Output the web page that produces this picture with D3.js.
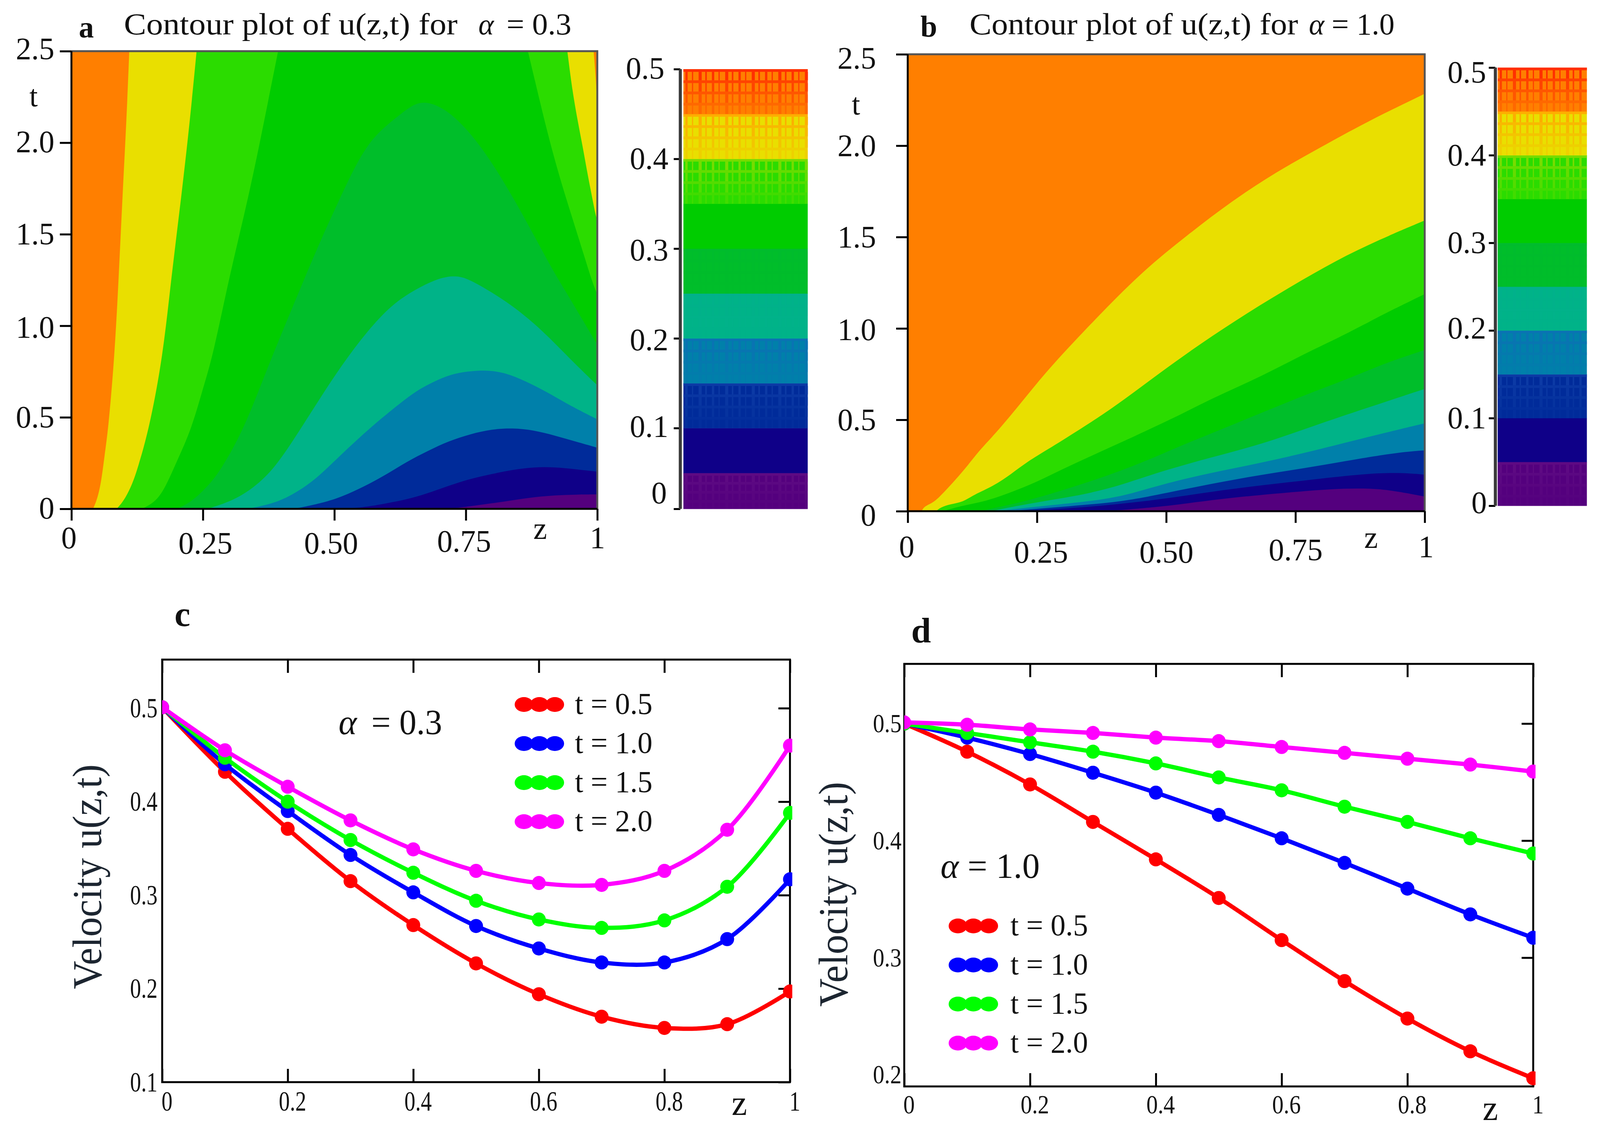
<!DOCTYPE html>
<html>
<head>
<meta charset="utf-8">
<script src="https://cdn.jsdelivr.net/npm/d3@7"></script>
<style>
html, body { margin: 0; padding: 0; background: #fff; overflow: hidden; }
svg { display: block; }
text { font-family: "Liberation Serif", serif; fill: #111; }
</style>
</head>
<body>
<script>
// contour boundaries, each point is [z, t]

// panel a, alpha = 0.3
var a45 = [[0.041,0],[0.049,0.051],[0.057,0.151],[0.063,0.293],[0.07,0.433],[0.082,0.833],[0.09,1.268],[0.097,1.703],[0.105,2.138],[0.11,2.5]]
var a45r = [[0.993,2.5],[0.997,2.36],[1,2.2]]
var a40 = [[0.086,0],[0.1,0.044],[0.116,0.136],[0.126,0.222],[0.1475,0.433],[0.174,0.833],[0.19,1.268],[0.209,1.703],[0.226,2.138],[0.238,2.5]]
var a40r = [[0.943,2.5],[0.953,2.276],[0.963,2.114],[0.973,1.967],[0.982,1.82],[0.99,1.705],[0.997,1.6],[1,1.58]]
var a35 = [[0.134,0],[0.164,0.044],[0.184,0.151],[0.2,0.257],[0.228,0.433],[0.249,0.648],[0.269,0.833],[0.3,1.268],[0.337,1.703],[0.368,2.138],[0.393,2.5]]
var a35r = [[0.868,2.5],[0.88,2.357],[0.904,2.065],[0.929,1.803],[0.953,1.584],[0.978,1.355],[0.99,1.243],[1,1.17]]
var a30 = [[0.2,0],[0.228,0.037],[0.259,0.122],[0.283,0.207],[0.328,0.433],[0.375,0.789],[0.421,1.105],[0.468,1.431],[0.515,1.725],[0.562,2.007],[0.618,2.138],[0.645,2.2],[0.67,2.23],[0.7085,2.19],[0.745,2.097],[0.782,1.967],[0.819,1.803],[0.855,1.624],[0.892,1.428],[0.919,1.285],[0.946,1.159],[0.972,1.032],[1,0.897]]
var a25 = [[0.259,0],[0.307,0.044],[0.347,0.115],[0.387,0.222],[0.435,0.433],[0.468,0.583],[0.515,0.79],[0.562,0.969],[0.609,1.116],[0.656,1.203],[0.702,1.265],[0.734,1.275],[0.759,1.25],[0.799,1.184],[0.839,1.108],[0.879,1.016],[0.919,0.906],[0.959,0.788],[1,0.675]]
var a20 = [[0.335,0],[0.387,0.03],[0.427,0.087],[0.466,0.165],[0.506,0.278],[0.564,0.433],[0.609,0.54],[0.656,0.648],[0.702,0.713],[0.734,0.745],[0.785,0.76],[0.825,0.745],[0.865,0.696],[0.905,0.637],[0.945,0.569],[1,0.489]]
var a15 = [[0.423,0],[0.486,0.037],[0.526,0.08],[0.566,0.136],[0.598,0.186],[0.638,0.258],[0.678,0.317],[0.718,0.371],[0.759,0.409],[0.799,0.435],[0.839,0.442],[0.879,0.43],[0.919,0.401],[0.959,0.367],[1,0.334]]
var a10 = [[0.518,0],[0.566,0.012],[0.598,0.03],[0.638,0.051],[0.678,0.085],[0.718,0.127],[0.759,0.165],[0.799,0.19],[0.839,0.214],[0.879,0.228],[0.919,0.228],[0.959,0.216],[1,0.203]]
var a05 = [[0.718,0],[0.759,0.014],[0.799,0.03],[0.839,0.047],[0.879,0.064],[0.919,0.074],[0.959,0.078],[1,0.079]]

// panel b, alpha = 1.0
var b45 = [[0.027,0],[0.032,0.028],[0.05,0.046],[0.07,0.103],[0.093,0.174],[0.117,0.253],[0.14,0.338],[0.177,0.446],[0.238,0.659],[0.283,0.812],[0.369,1.069],[0.455,1.315],[0.541,1.511],[0.626,1.695],[0.712,1.855],[0.798,1.99],[0.884,2.125],[1,2.284]]
var b40 = [[0.055,0],[0.063,0.021],[0.083,0.039],[0.107,0.05],[0.127,0.089],[0.167,0.139],[0.2,0.203],[0.233,0.274],[0.267,0.331],[0.332,0.446],[0.398,0.566],[0.484,0.75],[0.569,0.922],[0.655,1.082],[0.741,1.229],[0.827,1.37],[0.913,1.487],[1,1.591]]
var b35 = [[0.067,0],[0.107,0.032],[0.15,0.053],[0.2,0.103],[0.25,0.16],[0.3,0.231],[0.35,0.296],[0.4,0.36],[0.466,0.446],[0.535,0.539],[0.585,0.611],[0.635,0.676],[0.685,0.741],[0.735,0.813],[0.785,0.885],[0.834,0.95],[0.884,1.023],[0.918,1.075],[1,1.188]]
var b30 = [[0.14,0],[0.217,0.046],[0.283,0.1],[0.35,0.16],[0.417,0.225],[0.485,0.304],[0.535,0.366],[0.585,0.423],[0.635,0.481],[0.685,0.539],[0.735,0.597],[0.785,0.654],[0.834,0.705],[0.884,0.763],[0.934,0.82],[1,0.882]]
var b25 = [[0.16,0],[0.217,0.032],[0.283,0.064],[0.35,0.096],[0.417,0.146],[0.485,0.214],[0.585,0.293],[0.685,0.366],[0.785,0.467],[0.884,0.561],[1,0.669]]
var b20 = [[0.17,0],[0.25,0.025],[0.35,0.053],[0.417,0.082],[0.485,0.142],[0.585,0.21],[0.685,0.265],[0.785,0.33],[0.884,0.402],[1,0.481]]
var b15 = [[0.19,0],[0.317,0.028],[0.417,0.053],[0.485,0.091],[0.585,0.149],[0.685,0.2],[0.785,0.243],[0.884,0.293],[0.951,0.322],[1,0.333]]
var b10 = [[0.217,0],[0.35,0.021],[0.485,0.062],[0.585,0.106],[0.685,0.142],[0.785,0.174],[0.884,0.205],[0.951,0.212],[1,0.2]]
var b05 = [[0.383,0],[0.485,0.023],[0.535,0.041],[0.635,0.077],[0.735,0.102],[0.818,0.122],[0.884,0.126],[0.934,0.116],[1,0.08]]

// colour bands, low to high
var bandLevels = [0, 0.05, 0.1, 0.15, 0.2, 0.25, 0.3, 0.35, 0.4, 0.45, 0.5]
var bandColors = ['#54007e', '#0f0088', '#002b9a', '#0080aa', '#00b388', '#00be2a', '#00cc00', '#2bdc00', '#e9df00', '#ff7f00']
var stripeColors = ['#6d1a8c', '#0f0088', '#0f3ea8', '#0d6fb5', '#0aa8a0', '#00b33a', '#00cc00', '#8cdc00', '#ffa800', '#ff2800']
var stripeStrength = [0.4, 0, 0.8, 0.8, 0.15, 0.2, 0, 0.8, 0.9, 0.9]

// tick labels
var tTicks = [0, 0.5, 1, 1.5, 2, 2.5]
var tLabels = ['0', '0.5', '1.0', '1.5', '2.0', '2.5']
var zContourTicks = [0, 0.25, 0.5, 0.75, 1]
var zContourLabels = ['0', '0.25', '0.50', '0.75', '1']
var barLabels = ['0', '0.1', '0.2', '0.3', '0.4', '0.5']
var zLineTicks = [0, 0.2, 0.4, 0.6, 0.8, 1]
var zLineLabels = ['0', '0.2', '0.4', '0.6', '0.8', '1']

// velocity profiles
var zValues = [0, 0.1, 0.2, 0.3, 0.4, 0.5, 0.6, 0.7, 0.8, 0.9, 1]
var legendNames = ['t = 0.5', 't = 1.0', 't = 1.5', 't = 2.0']
var lineColors = ['#ff0000', '#0000ff', '#00ff00', '#ff00ff']

var c05 = [0.501, 0.432, 0.371, 0.315, 0.268, 0.227, 0.194, 0.17, 0.158, 0.162, 0.197]
var c10 = [0.501, 0.44, 0.39, 0.343, 0.303, 0.267, 0.243, 0.228, 0.228, 0.253, 0.317]
var c15 = [0.501, 0.447, 0.4, 0.359, 0.324, 0.294, 0.274, 0.265, 0.273, 0.309, 0.388]
var c20 = [0.501, 0.455, 0.416, 0.38, 0.349, 0.326, 0.313, 0.311, 0.326, 0.37, 0.46]

var d05 = [0.5, 0.476, 0.448, 0.416, 0.384, 0.351, 0.315, 0.28, 0.248, 0.22, 0.197]
var d10 = [0.5, 0.488, 0.474, 0.458, 0.441, 0.422, 0.402, 0.381, 0.359, 0.337, 0.317]
var d15 = [0.5, 0.492, 0.484, 0.476, 0.466, 0.454, 0.443, 0.429, 0.416, 0.402, 0.389]
var d20 = [0.501, 0.499, 0.495, 0.492, 0.488, 0.485, 0.48, 0.475, 0.47, 0.465, 0.459]

// page setup, the drawing is laid out in reference pixels and fills whatever window it gets

var svg = d3.select('body').append('svg')
  .attr('width', window.innerWidth)
  .attr('height', window.innerHeight)
  .attr('viewBox', '0 0 4144 2891')
  .attr('preserveAspectRatio', 'none')

var clipCount = 0

function addText(x, y, str, size, opts) {
  opts = opts || {}
  var t = svg.append('text')
    .attr('x', x)
    .attr('y', y)
    .style('font-size', size + 'px')
    .text(str)
  if (opts.bold) t.style('font-weight', 'bold')
  if (opts.italic) t.style('font-style', 'italic')
  if (opts.len) t.attr('textLength', opts.len).attr('lengthAdjust', 'spacingAndGlyphs')
  if (opts.rotate) t.attr('transform', `rotate(-90 ${x} ${y})`)
  return t
}

function styleAxis(g, width, color) {
  g.selectAll('path.domain').remove()
  g.selectAll('.tick line').attr('stroke', color || '#000').attr('stroke-width', width)
  g.selectAll('text').style('font-family', '"Liberation Serif", serif')
}

// filled contour panel
function drawContour(p) {
  var x = d3.scaleLinear().domain([0, 1]).range([p.left, p.right])
  var y = d3.scaleLinear().domain([0, 2.5]).range([p.bottom, p.top])

  var id = 'clip' + (clipCount++)
  svg.append('clipPath').attr('id', id).append('rect')
    .attr('x', p.left).attr('y', p.top)
    .attr('width', p.right - p.left).attr('height', p.bottom - p.top)

  var g = svg.append('g').attr('clip-path', `url(#${id})`)

  g.append('rect')
    .attr('x', p.left).attr('y', p.top)
    .attr('width', p.right - p.left).attr('height', p.bottom - p.top)
    .attr('fill', bandColors[9])

  // basis curve evens out the small errors of reading the boundaries by eye
  var line = d3.line()
    .x(function(d) { return x(d[0]) })
    .y(function(d) { return y(d[1]) })
    .curve(d3.curveBasis)

  // paint from the highest level down, each one closes through the corner z=1, t=0
  p.levels.forEach(function(branches, i) {
    var path = branches.map(function(b) { return line(b) }).join('')
      .replace(/M/g, 'L').replace('L', 'M')
    path += `L${x(1)},${y(0)}Z`
    g.append('path').attr('d', path).attr('fill', bandColors[8 - i])
  })

  // frame
  svg.append('path')
    .attr('d', `M${p.left},${p.top}H${p.right}V${p.bottom}`)
    .attr('fill', 'none').attr('stroke', '#555').attr('stroke-width', 5)

  var bottomAxis = svg.append('g')
    .attr('transform', `translate(0,${p.bottom})`)
    .call(d3.axisBottom(x).tickValues(zContourTicks).tickSizeOuter(0).tickSize(30)
      .tickFormat(function(d, i) { return zContourLabels[i] }))
  styleAxis(bottomAxis, 5)
  bottomAxis.selectAll('text')
    .style('font-size', '80px').style('fill', '#111')
    .attr('dy', null)
    .attr('text-anchor', 'middle')
    .attr('x', function(d, i) { return p.zNudge[i] })
    .attr('y', function(d, i) { return p.zDrop[i] })

  var leftAxis = svg.append('g')
    .attr('transform', `translate(${p.left},0)`)
    .call(d3.axisLeft(y).tickValues(tTicks).tickSizeOuter(0).tickSize(30)
      .tickFormat(function(d, i) { return tLabels[i] }))
  styleAxis(leftAxis, 5)
  leftAxis.selectAll('text')
    .style('font-size', '80px').style('fill', '#111')
    .attr('dy', null)
    .attr('x', p.tRight)
    .attr('y', function(d, i) { return p.tNudge[i] })

  svg.append('line')
    .attr('x1', p.left).attr('x2', p.left)
    .attr('y1', p.top).attr('y2', p.bottom + 3)
    .attr('stroke', '#000').attr('stroke-width', 5)
  svg.append('line')
    .attr('x1', p.left).attr('x2', p.right)
    .attr('y1', p.bottom).attr('y2', p.bottom)
    .attr('stroke', '#000').attr('stroke-width', 5)
}

// colour bar next to a contour panel
function drawBar(b) {
  var y = d3.scaleLinear().domain([b.low, 0.5]).range([b.bottom, b.top])
  var width = b.right - b.left
  var stripeWidths = [6, 3, 8, 4]
  var columns = d3.range(b.left + 5, b.right - 4, 17.2)

  bandColors.forEach(function(color, i) {
    var lo = Math.max(bandLevels[i], b.low)
    var hi = bandLevels[i + 1]
    var yTop = y(hi)
    var h = y(lo) - yTop

    svg.append('rect')
      .attr('x', b.left).attr('y', yTop)
      .attr('width', width).attr('height', h + 0.5)
      .attr('fill', color)

    if (!stripeStrength[i]) return

    // the mesh texture fades out over four rows in a band
    d3.range(4).forEach(function(row) {
      var rowTop = yTop + h * row / 4
      var strength = stripeStrength[i] * (1 - row / 4.2)
      svg.append('rect')
        .attr('x', b.left).attr('y', rowTop)
        .attr('width', width).attr('height', 7)
        .attr('fill', stripeColors[i]).attr('opacity', strength)
      svg.append('g').selectAll('rect')
        .data(columns)
        .enter().append('rect')
        .attr('x', function(d) { return d })
        .attr('y', rowTop + 7)
        .attr('width', function(d, k) { return stripeWidths[k % 4] })
        .attr('height', h / 4 - 7)
        .attr('fill', stripeColors[i])
        .attr('opacity', strength)
    })
  })

  var axis = svg.append('g')
    .attr('transform', `translate(${b.axisX},0)`)
    .call(d3.axisLeft(y).tickValues([b.low, 0.1, 0.2, 0.3, 0.4, 0.5]).tickSizeOuter(0).tickSize(17)
      .tickFormat(function(d, i) { return barLabels[i] }))
  styleAxis(axis, 5)
  axis.selectAll('text')
    .style('font-size', '80px').style('fill', '#111')
    .attr('dy', null)
    .attr('x', function(d, i) { return b.labelRight[i] })
    .attr('y', function(d, i) { return b.labelNudge[i] })

  svg.append('line')
    .attr('x1', b.axisX).attr('x2', b.axisX)
    .attr('y1', b.top).attr('y2', b.bottom)
    .attr('stroke', '#3a3a3a').attr('stroke-width', 8)
}

// velocity line panel
function drawLines(p) {
  var x = d3.scaleLinear().domain([0, 1]).range([p.left, p.right])
  var y = d3.scaleLinear().domain(p.yDomain).range([p.bottom, p.top])

  var bottomAxis = svg.append('g')
    .attr('transform', `translate(0,${p.bottom})`)
    .call(d3.axisBottom(x).tickValues(zLineTicks).tickSizeOuter(0).tickSize(-34)
      .tickFormat(function(d, i) { return zLineLabels[i] }))
  styleAxis(bottomAxis, 5)
  bottomAxis.selectAll('text')
    .style('font-size', p.tickSize + 'px').style('fill', '#111')
    .attr('dy', null)
    .attr('x', 0)
    .attr('y', p.tickSize * 1.02)
    .attr('textLength', function(d, i) { return zLineLabels[i].length > 1 ? p.tickLen : p.tickLen * 0.4 })
    .attr('lengthAdjust', 'spacingAndGlyphs')
    .attr('dx', 12)

  var topAxis = svg.append('g')
    .attr('transform', `translate(0,${p.top})`)
    .call(d3.axisTop(x).tickValues(zLineTicks).tickSizeOuter(0).tickSize(-34).tickFormat(''))
  styleAxis(topAxis, 5)

  var rightAxis = svg.append('g')
    .attr('transform', `translate(${p.right},0)`)
    .call(d3.axisRight(y).tickValues(p.yTicks).tickSizeOuter(0).tickSize(-30).tickFormat(''))
  styleAxis(rightAxis, 5)

  var leftAxis = svg.append('g')
    .attr('transform', `translate(${p.left},0)`)
    .call(d3.axisLeft(y).tickValues(p.yTicks).tickSizeOuter(0).tickSize(0).tickFormat(d3.format('.1f')))
  styleAxis(leftAxis, 0)
  leftAxis.selectAll('text')
    .style('font-size', p.tickSize + 'px').style('fill', '#111')
    .attr('dy', null)
    .attr('x', p.yLabelGap)
    .attr('y', p.tickSize * 0.32)
    .attr('textLength', p.tickLen)
    .attr('lengthAdjust', 'spacingAndGlyphs')

  svg.append('rect')
    .attr('x', p.left).attr('y', p.top)
    .attr('width', p.right - p.left).attr('height', p.bottom - p.top)
    .attr('fill', 'none').attr('stroke', '#000').attr('stroke-width', 5)

  var id = 'clip' + (clipCount++)
  svg.append('clipPath').attr('id', id).append('rect')
    .attr('x', p.left).attr('y', p.top)
    .attr('width', p.right - p.left + 6).attr('height', p.bottom - p.top)

  var plot = svg.append('g').attr('clip-path', `url(#${id})`)

  var line = d3.line()
    .x(function(d, i) { return x(zValues[i]) })
    .y(function(d) { return y(d) })
    .curve(d3.curveCatmullRom.alpha(0.5))

  p.series.forEach(function(values, i) {
    plot.append('path')
      .attr('d', line(values))
      .attr('fill', 'none')
      .attr('stroke', lineColors[i])
      .attr('stroke-width', 11)

    plot.append('g').selectAll('circle')
      .data(values)
      .enter().append('circle')
      .attr('cx', function(d, k) { return x(zValues[k]) })
      .attr('cy', function(d) { return y(d) })
      .attr('r', 18)
      .attr('fill', lineColors[i])
  })

  // legend
  legendNames.forEach(function(name, i) {
    var ly = p.legendY + i * p.legendStep
    svg.append('line')
      .attr('x1', p.legendX - 55).attr('x2', p.legendX + 55)
      .attr('y1', ly).attr('y2', ly)
      .attr('stroke', lineColors[i]).attr('stroke-width', 11)
    svg.append('g').selectAll('ellipse')
      .data([-1, 0, 1])
      .enter().append('ellipse')
      .attr('cx', function(d) { return p.legendX + d * 40 })
      .attr('cy', ly)
      .attr('rx', 24)
      .attr('ry', 19)
      .attr('fill', lineColors[i])
    addText(p.legendTextX, ly + 24, name, 78, { len: 201 })
  })

  addText(p.yTitleX, p.yTitleY, 'Velocity u(z,t)', 108, { rotate: true, len: 576 })
    .style('fill', '#1c2530')
}

// panel a
addText(204, 96, 'a', 78, { bold: true })
addText(321, 88, 'Contour plot of u(z,t) for', 78, { len: 864 })
addText(1239, 88, 'α', 76, { italic: true })
addText(1312, 88, '= 0.3', 78, { len: 168 })

drawContour({
  left: 185, right: 1547, top: 131, bottom: 1303,
  levels: [[a45, a45r], [a40, a40r], [a35, a35r], [a30], [a25], [a20], [a15], [a10], [a05]],
  zNudge: [-7, 6, -9, -5, 0],
  zDrop: [101, 115, 115, 110, 101],
  tRight: -44,
  tNudge: [24, 26, 30, 26, 24, 20]
})
addText(87, 272, 't', 78).attr('text-anchor', 'middle')
addText(1399, 1380, 'z', 80).attr('text-anchor', 'middle')

drawBar({
  left: 1770, right: 2092, top: 177, bottom: 1303, axisX: 1762, low: 0.01,
  labelRight: [-35, -31, -31, -31, -31, -41],
  labelNudge: [-15, 22, 30, 30, 26, 24]
})

// panel b
addText(2384, 94, 'b', 78, { bold: true })
addText(2511, 88, 'Contour plot of u(z,t) for', 78, { len: 851 })
addText(3390, 88, 'α', 76, { italic: true })
addText(3449, 88, '= 1.0', 78, { len: 163 })

drawContour({
  left: 2351, right: 3690, top: 139, bottom: 1309,
  levels: [[b45], [b40], [b35], [b30], [b25], [b20], [b15], [b10], [b05]],
  zNudge: [-3, 10, 0, 0, 3],
  zDrop: [118, 132, 132, 126, 118],
  tRight: -82,
  tNudge: [36, 26, 29, 26, 26, 36]
})
addText(2217, 293, 't', 78).attr('text-anchor', 'middle')
addText(3551, 1403, 'z', 80).attr('text-anchor', 'middle')

drawBar({
  left: 3879, right: 4110, top: 173, bottom: 1295, axisX: 3873, low: 0,
  labelRight: [-22, -24, -24, -24, -24, -24],
  labelNudge: [18, 26, 20, 26, 26, 38]
})

// panel c
addText(452, 1603, 'c', 92, { bold: true })

drawLines({
  left: 420, right: 2046, top: 1689, bottom: 2771,
  yDomain: [0.1, 0.552],
  yTicks: [0.1, 0.2, 0.3, 0.4, 0.5],
  series: [c05, c10, c15, c20],
  tickSize: 72, tickLen: 71, yLabelGap: -12,
  legendX: 1397, legendY: 1804, legendStep: 100, legendTextX: 1489,
  yTitleX: 262, yTitleY: 2533
})
addText(877, 1880, 'α', 90, { italic: true })
addText(962, 1880, '= 0.3', 90, { len: 183 })
addText(1915, 2855, 'z', 90).attr('text-anchor', 'middle')

// panel d
addText(2360, 1645, 'd', 92, { bold: true })

drawLines({
  left: 2342, right: 3971, top: 1700, bottom: 2782,
  yDomain: [0.19, 0.551],
  yTicks: [0.2, 0.3, 0.4, 0.5],
  series: [d05, d10, d15, d20],
  tickSize: 68, tickLen: 74, yLabelGap: -7,
  legendX: 2521, legendY: 2371, legendStep: 100, legendTextX: 2617,
  yTitleX: 2194, yTitleY: 2578
})
addText(2436, 2248, 'α', 90, { italic: true })
addText(2506, 2248, '= 1.0', 90, { len: 187 })
addText(3860, 2868, 'z', 90).attr('text-anchor', 'middle')
</script>
</body>
</html>
